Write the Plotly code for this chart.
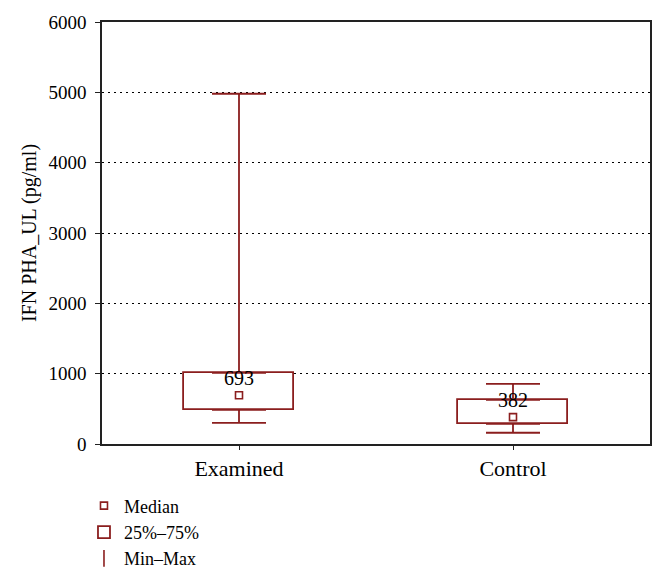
import plotly.graph_objects as go

categories = ["Examined", "Control"]
medians = [693, 382]
q1 = [485, 285]
q3 = [1010, 628]
mins = [300, 160]
maxs = [4980, 855]
median_labels = ["693", "382"]
y_ticks = [0, 1000, 2000, 3000, 4000, 5000, 6000]

RED = "#8b1e1e"
FONT = "Liberation Serif"

fig = go.Figure()

# 25%-75% boxes
fig.add_trace(go.Bar(
    x=categories, y=[b - a for a, b in zip(q1, q3)], base=q1,
    width=0.4, marker=dict(color="white", line=dict(color=RED, width=1.8)),
    name="25%\u201375%", legendrank=2, hoverinfo="skip",
))

# upper whiskers
fig.add_trace(go.Scatter(
    x=categories, y=q3, mode="markers",
    marker=dict(size=1, color="rgba(0,0,0,0)"),
    error_y=dict(type="data", symmetric=False,
                 array=[m - q for m, q in zip(maxs, q3)],
                 arrayminus=[0, 0], color=RED, thickness=1.8, width=27),
    showlegend=False, hoverinfo="skip",
))
# lower whiskers
fig.add_trace(go.Scatter(
    x=categories, y=q1, mode="markers",
    marker=dict(size=1, color="rgba(0,0,0,0)"),
    error_y=dict(type="data", symmetric=False,
                 array=[0, 0],
                 arrayminus=[q - m for m, q in zip(mins, q1)],
                 color=RED, thickness=1.8, width=27),
    showlegend=False, hoverinfo="skip",
))

# medians
fig.add_trace(go.Scatter(
    x=categories, y=medians, mode="markers+text",
    marker=dict(symbol="square-open", size=7, color=RED, line=dict(width=1.6, color=RED)),
    text=median_labels, textposition="top center",
    textfont=dict(family=FONT, size=20, color="black"),
    name="Median", legendrank=1, hoverinfo="skip",
))

# legend entry for Min-Max
fig.add_trace(go.Scatter(
    x=[None], y=[None], mode="markers",
    marker=dict(symbol="line-ns-open", size=12, color=RED, line=dict(width=1.6, color=RED)),
    name="Min\u2013Max", legendrank=3,
))

fig.update_layout(
    width=665, height=584,
    margin=dict(l=102, r=0, t=22, b=140),
    plot_bgcolor="white", paper_bgcolor="white",
    font=dict(family=FONT, size=19, color="black"),
    bargap=0,
    showlegend=True,
    legend=dict(x=-0.032, y=-0.103, xanchor="left", yanchor="top",
                font=dict(family=FONT, size=18), traceorder="normal",
                itemwidth=30, tracegroupgap=0),
    xaxis=dict(
        type="category", range=[-0.5, 1.5], automargin=False,
        domain=[0, 548 / 563],
        showline=True, linecolor="#222", linewidth=1.5, mirror=True,
        ticks="outside", ticklen=4, tickcolor="#222",
        showgrid=False, tickfont=dict(family=FONT, size=22),
    ),
    yaxis=dict(
        range=[0, 6000], tickvals=y_ticks, automargin=False,
        showline=True, linecolor="#222", linewidth=1.5, mirror=True,
        ticks="outside", ticklen=5, tickcolor="#222",
        ticklabelstandoff=5,
        showgrid=True, gridcolor="black", gridwidth=1, griddash="2px,4px",
        zeroline=False,
        title=dict(text="IFN PHA_UL (pg/ml)", font=dict(family=FONT, size=20), standoff=6),
        tickfont=dict(family=FONT, size=19),
    ),
)

fig.write_html("out.html", config={"displayModeBar": False},
               post_script="document.body.style.margin='0';")
